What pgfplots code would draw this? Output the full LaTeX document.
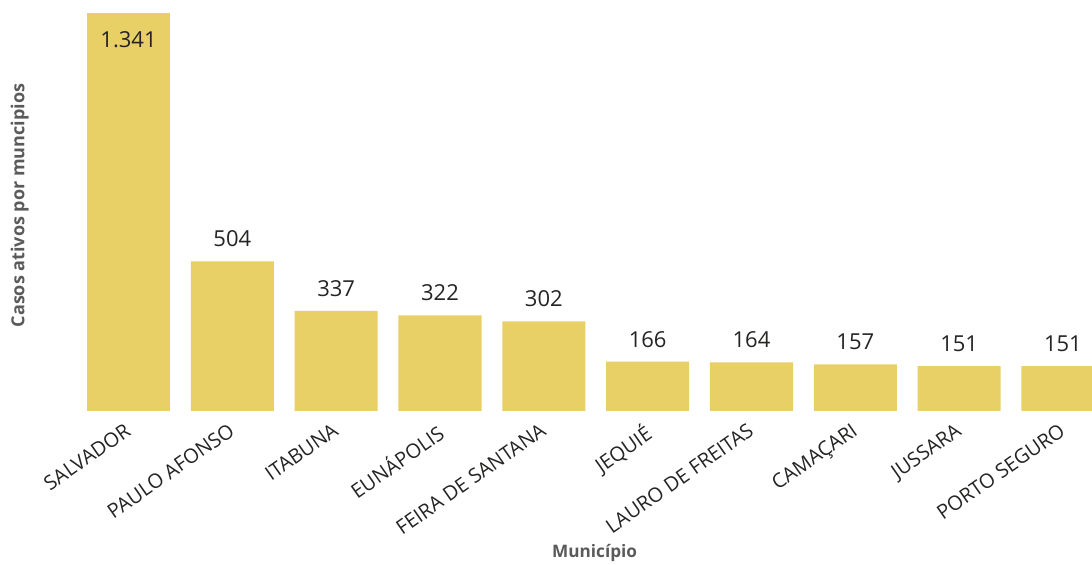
\documentclass[border=0pt]{standalone}
\usepackage{fontspec}
\setmainfont{Open Sans}
\usepackage{pgfplots}
\pgfplotsset{compat=1.18}
\definecolor{barcol}{HTML}{E8D067}
\definecolor{txt}{HTML}{252423}
\definecolor{lab}{HTML}{5A5A5A}
\begin{document}
\begin{tikzpicture}
\begin{axis}[
  scale only axis, width=516pt, height=205.5pt,
  xmin=-0.66, xmax=9.28, ymin=0, ymax=1385,
  clip mode=individual,
  axis line style={draw=none},
  ytick=\empty,
  xtick={0,...,9},
  xticklabels={SALVADOR,PAULO AFONSO,ITABUNA,EUNÁPOLIS,FEIRA DE SANTANA,JEQUIÉ,LAURO DE FREITAS,CAMAÇARI,JUSSARA,PORTO SEGURO},
  major tick length=0pt,
  xticklabel style={rotate=35, anchor=north east, font=\fontsize{10}{12}\selectfont, text=txt, inner sep=1pt, yshift=-2pt, xshift=-4pt},
  ybar, bar width=0.8,
  /pgf/number format/1000 sep={.},
  /pgf/number format/assume math mode=true,
  every node near coord/.append style={font=\fontsize{11}{13}\selectfont, text=txt},
]
% Salvador, label inside the bar
\addplot[fill=barcol, draw=none, bar shift=0pt, nodes near coords,
  every node near coord/.append style={anchor=north, yshift=-5.5pt}]
  coordinates {(0,1341)};
% the other municipalities
\addplot[fill=barcol, draw=none, bar shift=0pt, nodes near coords,
  every node near coord/.append style={yshift=3.7pt}]
  coordinates {(1,504) (2,337) (3,322) (4,302) (5,166) (6,164) (7,157) (8,151) (9,151)};
\node[rotate=90, text=lab, font=\fontsize{9}{11}\selectfont\bfseries] at (axis description cs:-0.039,0.5) {Casos ativos por muncipios};
\node[text=lab, font=\fontsize{8.6}{11}\selectfont\bfseries] at (axis description cs:0.518,-0.3455) {Município};
\end{axis}
\pgfresetboundingbox
\useasboundingbox (-30pt,-77pt) rectangle (516pt,205.5pt);
\end{tikzpicture}
\end{document}
